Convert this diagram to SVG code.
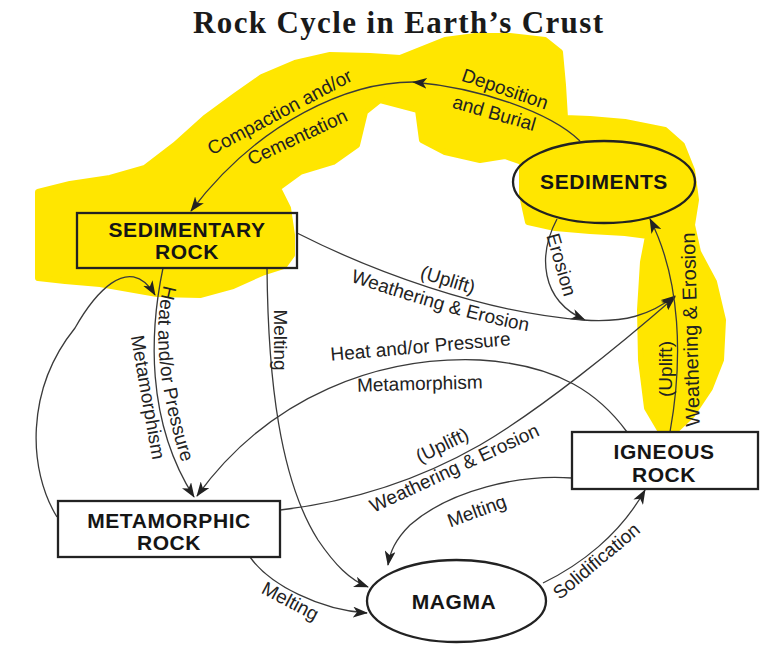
<svg xmlns="http://www.w3.org/2000/svg" width="774" height="646" viewBox="0 0 774 646">
<style>
.hl{fill:#FFE600;stroke:#FFE600;stroke-width:6;stroke-linejoin:round}
.c{fill:none;stroke:#3a3a3a;stroke-width:1.3}
.box{fill:none;stroke:#222;stroke-width:2.3}
.nt{font-family:"Liberation Sans",Arial,sans-serif;font-weight:bold;font-size:21px;fill:#151515;text-anchor:middle;letter-spacing:0.6px}
.lb{font-family:"Liberation Sans",Arial,sans-serif;font-size:19px;fill:#222;text-anchor:middle}
.title{font-family:"Liberation Serif","Times New Roman",serif;font-weight:bold;font-size:31px;fill:#1a1a1a;text-anchor:middle}
</style>
<defs>
<marker id="ah" markerWidth="15" markerHeight="11" refX="14" refY="5.5" orient="auto" markerUnits="userSpaceOnUse">
<path d="M0,0 L15,5.5 L0,11 L4,5.5 z" fill="#222"/>
</marker>
<path id="p-we1" d="M346,280 Q459,319 532,332"/>
<path id="p-hp2" d="M165.5,280 Q144.5,346 183.5,468"/>
</defs>
<rect width="774" height="646" fill="#fff"/>

<g id="highlight">
<path class="hl" d="M38,192 L70,184 L110,178 L145,168 L175,145 L205,118 L235,96 L262,77 L295,63 L330,55 L370,56 L400,58 L420,50 L445,40 L475,36 L510,36 L545,40 L560,52 L563,85 L565,118 L590,119 L625,122 L665,130 L682,145 L692,170 L696,200 L692,225 L698,252 L714,282 L723,320 L721,360 L710,388 L692,415 L676,430 L660,430 L647,408 L641,360 L640,310 L643,262 L648,236 L625,233 L590,231 L555,228 L528,222 L522,195 L522,162 L505,156 L480,160 L445,152 L422,140 L418,110 L380,100 L365,112 L357,145 L333,162 L300,172 L278,188 L288,208 L292,235 L292,255 L284,266 L262,273 L233,286 L200,295 L157,294 L100,284 L65,281 L38,278 Z"/>
</g>

<text id="title" class="title" x="398" y="33" textLength="410" lengthAdjust="spacing">Rock Cycle in Earth’s Crust</text>

<g id="connectors">
<path class="c" d="M580,141 C550,112 480,88 413,82" marker-end="url(#ah)"/>
<path class="c" d="M413,82 C350,82 260,120 191,211" marker-end="url(#ah)"/>
<path class="c" d="M557,219 C538,255 540,300 585,320" marker-end="url(#ah)"/>
<path class="c" d="M297,233 C370,270 480,312 583,320 C625,323 650,315 675,296" marker-end="url(#ah)"/>
<path class="c" d="M280,510 C340,503 410,485 480,445 C540,410 620,345 675,297" marker-end="url(#ah)"/>
<path class="c" d="M670,432 C683,360 681,280 650,219" marker-end="url(#ah)"/>
<path class="c" d="M627,432 C600,395 560,365 480,360 C380,356 270,395 197,496" marker-end="url(#ah)"/>
<path class="c" d="M163,268 C150,330 145,420 194,497" marker-end="url(#ah)"/>
<path class="c" d="M57,517 C28,470 25,390 75,328 C92,298 128,250 155,295" marker-end="url(#ah)"/>
<path class="c" d="M267,268 C268,380 280,480 318,540 C335,565 350,580 368,587" marker-end="url(#ah)"/>
<path class="c" d="M250,557 C270,585 320,610 367,613" marker-end="url(#ah)"/>
<path class="c" d="M572,478 C520,474 450,490 410,525 C395,540 390,552 388,565" marker-end="url(#ah)"/>
<path class="c" d="M543,583 C580,565 620,535 645,490" marker-end="url(#ah)"/>
</g>

<g id="edge-labels">
<text class="lb" transform="translate(503,95) rotate(19)">Deposition</text>
<text class="lb" transform="translate(492.5,119.3) rotate(16)">and Burial</text>
<text class="lb" transform="translate(282.7,117.8) rotate(-28)">Compaction and/or</text>
<text class="lb" transform="translate(300,143) rotate(-25)">Cementation</text>
<text class="lb" transform="translate(555.2,266.5) rotate(74)">Erosion</text>
<text class="lb" transform="translate(446,286) rotate(17)">(Uplift)</text>
<text class="lb"><textPath href="#p-we1" startOffset="50%">Weathering &amp; Erosion</textPath></text>
<text class="lb" transform="translate(421,353) rotate(-5)">Heat and/or Pressure</text>
<text class="lb" transform="translate(420,390) rotate(-1.5)">Metamorphism</text>
<text class="lb"><textPath href="#p-hp2" startOffset="50%">Heat and/or Pressure</textPath></text>
<text class="lb" transform="translate(141.6,398.4) rotate(80)">Metamorphism</text>
<text class="lb" transform="translate(274,340) rotate(90)">Melting</text>
<text class="lb" transform="translate(671.5,369) rotate(-90)">(Uplift)</text>
<text class="lb" style="font-size:20px" transform="translate(697.3,329.5) rotate(-91.5)">Weathering &amp; Erosion</text>
<text class="lb" transform="translate(445,451) rotate(-26)">(Uplift)</text>
<text class="lb" transform="translate(457,474) rotate(-25)">Weathering &amp; Erosion</text>
<text class="lb" transform="translate(287.4,606.9) rotate(28)">Melting</text>
<text class="lb" transform="translate(479,517) rotate(-20)">Melting</text>
<text class="lb" transform="translate(600.5,566) rotate(-40)">Solidification</text>
</g>

<g id="sedimentary-rock">
<rect class="box" x="77" y="213" width="220" height="55"/>
<text class="nt" x="187" y="237">SEDIMENTARY</text>
<text class="nt" x="187" y="259">ROCK</text>
</g>
<g id="sediments">
<ellipse class="box" cx="604" cy="182" rx="91" ry="41"/>
<text class="nt" x="604" y="189">SEDIMENTS</text>
</g>
<g id="igneous-rock">
<rect class="box" style="fill:#fff" x="572" y="432" width="186" height="57"/>
<text class="nt" x="664" y="459">IGNEOUS</text>
<text class="nt" x="664" y="482">ROCK</text>
</g>
<g id="metamorphic-rock">
<rect class="box" style="fill:#fff" x="58" y="501" width="222" height="56"/>
<text class="nt" x="169" y="528">METAMORPHIC</text>
<text class="nt" x="169" y="550">ROCK</text>
</g>
<g id="magma">
<ellipse class="box" style="fill:#fff" cx="456.5" cy="601" rx="89.5" ry="41"/>
<text class="nt" x="454" y="609">MAGMA</text>
</g>
</svg>
